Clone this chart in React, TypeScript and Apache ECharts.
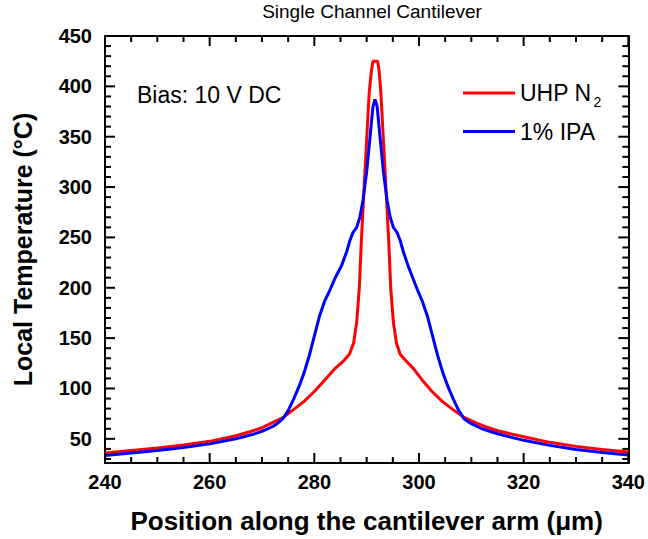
import React, { useEffect, useRef } from "react";
import * as echarts from "echarts";

const redX = [240, 245, 250, 255, 260, 265, 268, 270, 272, 274, 276, 278, 280, 282, 284, 285.7, 286.7, 287.5, 288.1, 288.6, 289, 289.5, 290, 290.5, 290.9, 291.2, 292.1, 292.4, 292.7, 293.2, 293.7, 294.2, 294.6, 295.1, 295.7, 296.4, 297.4, 298.9, 300.6, 302.5, 304.5, 306.5, 308.7, 311, 313, 315, 320, 325, 330, 335, 340];
const redY = [36, 38.5, 41, 44, 47.5, 53, 57.5, 61, 66, 71, 79, 87, 97, 108.5, 120, 128, 134, 145, 166, 200, 248, 298, 347, 395, 415, 425, 425, 415, 395, 347, 298, 248, 200, 166, 145, 134, 128, 120, 108.5, 97, 87, 79, 71, 65.5, 61.5, 58, 52, 46.5, 42.5, 39.5, 37];

const blueX = [240, 245, 250, 255, 260, 265, 268, 270, 272, 273, 274, 275, 276, 277, 278, 279, 280, 281, 282, 283, 284, 285.2, 286.2, 286.8, 287.4, 288.1, 288.7, 289.3, 290, 290.6, 291.2, 291.6, 292, 292.6, 293.2, 293.9, 294.5, 295.1, 295.8, 296.4, 297, 297.9, 298.8, 299.7, 300.6, 301.6, 302.6, 303.6, 304.6, 305.6, 306.6, 307.6, 308.6, 310, 312, 315, 320, 325, 330, 335, 340];
const blueY = [33.5, 36, 38.5, 41.5, 45, 50, 54, 57.5, 62, 65.5, 70, 78, 89, 101, 115, 132, 152, 172, 187, 198, 210, 222, 236, 247, 255, 260, 270, 287, 315, 347, 380, 387, 380, 347, 315, 287, 270, 260, 255, 247, 236, 222, 210, 198, 187, 172, 152, 132, 115, 101, 89, 78, 70, 65, 60, 55, 48.5, 43.5, 39.5, 36.5, 34];

const xMajor = [240, 260, 280, 300, 320, 340];
const xMinor = [245, 250, 255, 265, 270, 275, 285, 290, 295, 305, 310, 315, 325, 330, 335];
const yMajor = [50, 100, 150, 200, 250, 300, 350, 400, 450];
const yMinor = [30, 40, 60, 70, 80, 90, 110, 120, 130, 140, 160, 170, 180, 190, 210, 220, 230, 240, 260, 270, 280, 290, 310, 320, 330, 340, 360, 370, 380, 390, 410, 420, 430, 440];
const seriesNames = ["UHP N2", "1% IPA"];

const X_MIN = 240;
const X_MAX = 340;
const Y_MIN = 26;
const Y_MAX = 450;
const FONT = "'Liberation Sans', Arial, sans-serif";

export default function App() {
  const ref = useRef<HTMLDivElement>(null);
  useEffect(() => {
    if (!ref.current) return;
    const chart = echarts.init(ref.current, null, { renderer: "svg" });
    const axLine = () => ({ show: true, onZero: false, lineStyle: { color: "#000", width: 2 } });
    const xBase = () => ({
      type: "value" as const,
      min: X_MIN,
      max: X_MAX,
      interval: 20,
      axisLine: axLine(),
      splitLine: { show: false },
      axisTick: { show: false },
    });
    const yBase = () => ({
      type: "value" as const,
      min: Y_MIN,
      max: Y_MAX,
      axisLine: axLine(),
      splitLine: { show: false },
      axisTick: { show: false },
    });
    const toPairs = (xs: number[], ys: number[]) => xs.map((x, i) => [x, ys[i]]);
    // tick marks: [kind (0 = x, 1 = y), value, length]
    const tickData: number[][] = [
      ...xMajor.map((v) => [0, v, 10]),
      ...xMinor.map((v) => [0, v, 6]),
      ...yMajor.map((v) => [1, v, 10]),
      ...yMinor.map((v) => [1, v, 6]),
    ];
    chart.setOption({
      animation: false,
      textStyle: { fontFamily: FONT },
      title: {
        text: "Single Channel Cantilever",
        left: 367,
        textAlign: "center",
        top: -3,
        textStyle: { fontFamily: FONT, fontSize: 19, fontWeight: "normal", color: "#000" },
      },
      grid: { left: 105, right: 17, top: 36, bottom: 75, containLabel: false },
      legend: {
        orient: "vertical",
        left: 458,
        top: 72,
        icon: "rect",
        itemWidth: 52,
        itemHeight: 3,
        itemGap: 11,
        data: seriesNames,
        formatter: (n: string) => (n === "UHP N2" ? "{a|UHP N}{b|2}" : "{a|1% IPA}"),
        textStyle: {
          color: "#000",
          rich: {
            a: { fontSize: 23, fontFamily: FONT, color: "#000", lineHeight: 26 },
            b: { fontSize: 14, fontFamily: FONT, color: "#000", padding: [18, 0, 0, 2], lineHeight: 26 },
          },
        },
      },
      graphic: [
        {
          type: "text",
          left: 137,
          top: 83,
          style: { text: "Bias: 10 V DC", font: `23px ${FONT}`, fill: "#000" },
        },
      ],
      xAxis: [
        {
          ...xBase(),
          position: "bottom",
          axisLabel: { show: true, fontSize: 20, fontWeight: "bold", color: "#000", margin: 9, fontFamily: FONT },
          name: "Position along the cantilever arm (\u03bcm)",
          nameLocation: "middle",
          nameGap: 45,
          nameTextStyle: { fontSize: 26, fontWeight: "bold", color: "#000", fontFamily: FONT },
        },
        { ...xBase(), position: "top", axisLabel: { show: false } },
      ],
      yAxis: [
        {
          ...yBase(),
          position: "left",
          axisLabel: {
            show: true,
            customValues: yMajor,
            fontSize: 20,
            fontWeight: "bold",
            color: "#000",
            margin: 13,
            fontFamily: FONT,
          },
          name: "Local Temperature (\u00b0C)",
          nameLocation: "middle",
          nameGap: 70,
          nameTextStyle: { fontSize: 25, fontWeight: "bold", color: "#000", fontFamily: FONT },
        },
        { ...yBase(), position: "right", axisLabel: { show: false } },
      ],
      series: [
        {
          name: seriesNames[0],
          type: "line",
          data: toPairs(redX, redY),
          showSymbol: false,
          symbol: "none",
          lineStyle: { color: "#ff0000", width: 3 },
          itemStyle: { color: "#ff0000" },
          z: 3,
        },
        {
          name: seriesNames[1],
          type: "line",
          data: toPairs(blueX, blueY),
          showSymbol: false,
          symbol: "none",
          lineStyle: { color: "#0000ff", width: 3 },
          itemStyle: { color: "#0000ff" },
          z: 4,
        },
        {
          name: "ticks",
          type: "custom",
          silent: true,
          clip: false,
          z: 5,
          data: tickData,
          renderItem: (_params: any, api: any) => {
            const kind = api.value(0);
            const v = api.value(1);
            const len = api.value(2);
            const style = { fill: "#000" };
            if (kind === 0) {
              const b = api.coord([v, Y_MIN]);
              const t = api.coord([v, Y_MAX]);
              return {
                type: "group",
                children: [
                  { type: "rect", shape: { x: b[0] - 1, y: b[1] - len, width: 2, height: len }, style },
                  { type: "rect", shape: { x: t[0] - 1, y: t[1], width: 2, height: len }, style },
                ],
              };
            }
            const l = api.coord([X_MIN, v]);
            const r = api.coord([X_MAX, v]);
            return {
              type: "group",
              children: [
                { type: "rect", shape: { x: l[0], y: l[1] - 1, width: len, height: 2 }, style },
                { type: "rect", shape: { x: r[0] - len, y: r[1] - 1, width: len, height: 2 }, style },
              ],
            };
          },
        },
      ],
    });
    return () => chart.dispose();
  }, []);
  return (
    <div
      ref={ref}
      style={{ position: "absolute", left: 0, top: 0, width: 648, height: 539, background: "#fff" }}
    />
  );
}
